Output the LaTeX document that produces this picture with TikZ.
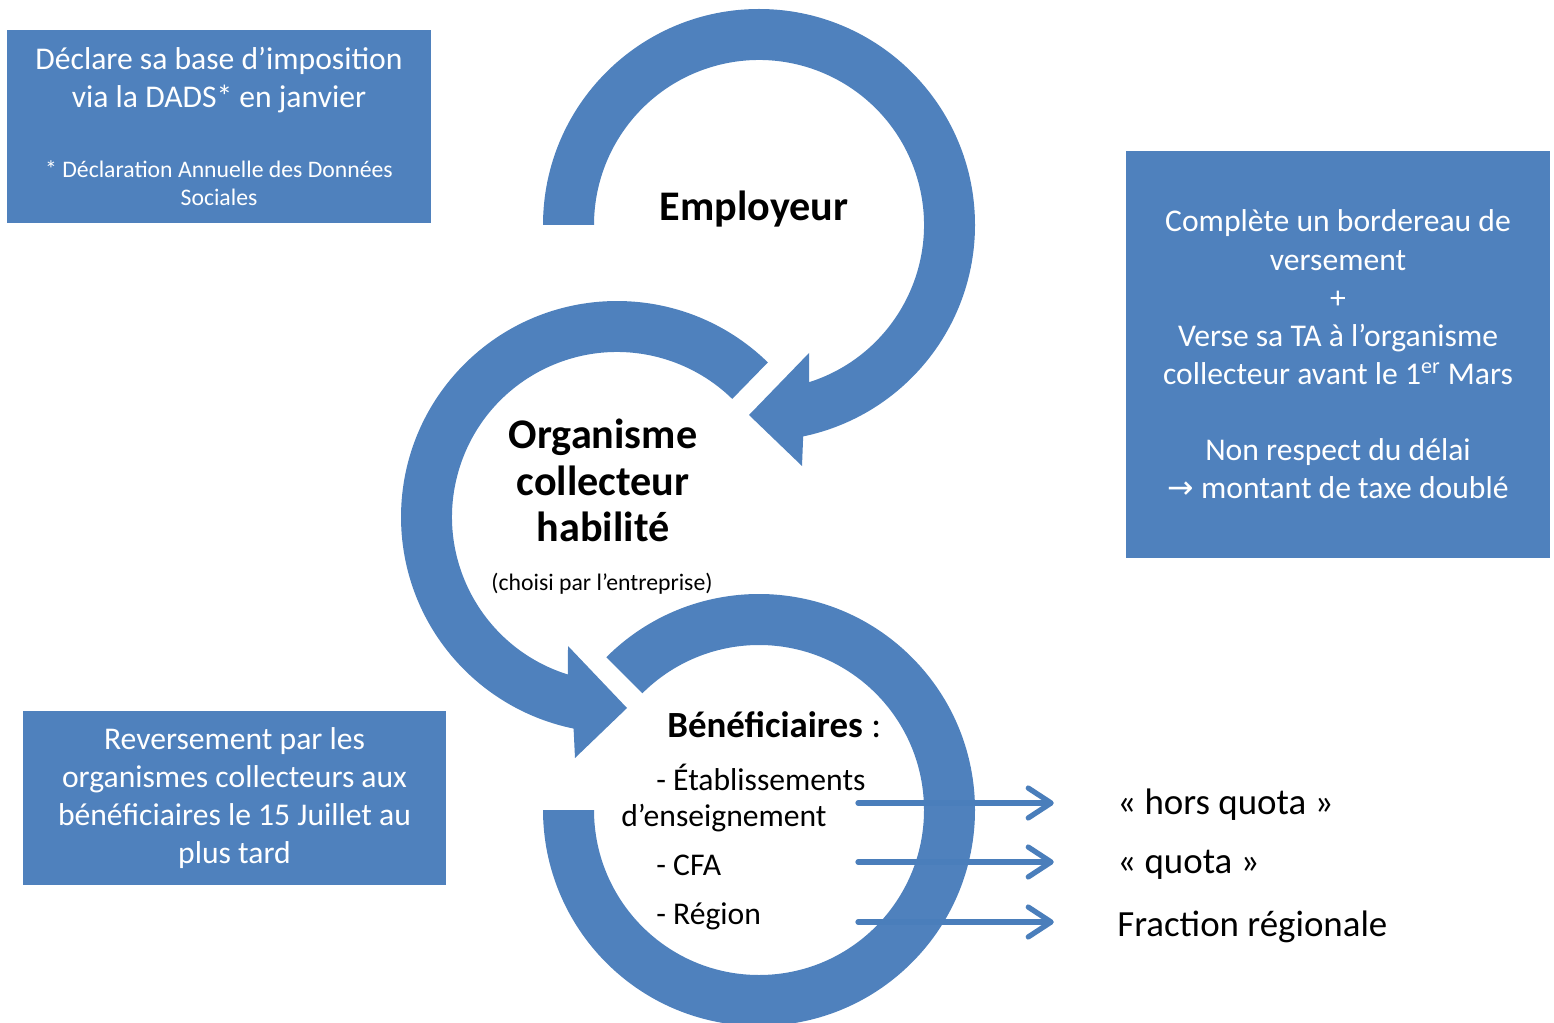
\documentclass[tikz,border=0pt]{standalone}
\usepackage{fontspec}
\setmainfont{Carlito}
\newfontfamily\symfont{DejaVu Sans}
\usetikzlibrary{arrows.meta}

\definecolor{ringblue}{RGB}{79,129,189}
\definecolor{flowblue}{RGB}{74,126,187}

\begin{document}
\begin{tikzpicture}[x=0.02cm,y=0.02cm,
  infobox/.style={fill=ringblue,text=white,align=flush center,inner sep=0pt,
    execute at begin node=\setlength{\parindent}{0pt},
    font=\fontsize{18}{21.7}\selectfont},
  title/.style={font=\fontsize{24}{26.4}\selectfont\bfseries,align=center,inner sep=0pt},
  item/.style={font=\fontsize{18}{21.7}\selectfont,anchor=base west,inner sep=0pt},
  share/.style={font=\fontsize{21}{25}\selectfont,anchor=base west,inner sep=0pt},
  flow/.style={flowblue,line width=3pt,line cap=round,shorten >=36pt,
    -{Straight Barb[length=13pt,width=17pt,round]}}]

\useasboundingbox (0,0) rectangle (1554,-1023);
\clip (0,0) rectangle (1554,-1023);

% Employeur ring, head at the bottom
\begin{scope}[shift={(759,-225)}]
\fill[ringblue] (180:216) arc[start angle=180,end angle=-78.2,radius=216]
  -- (43,-241) -- (-10,-190) -- (50,-128) -- (-72.3:165)
  arc[start angle=-72.3,end angle=180,radius=165] -- cycle;
\end{scope}

% Organisme ring
\begin{scope}[shift={(617,-517)}]
\fill[ringblue] (45.7:216) arc[start angle=45.7,end angle=258.4,radius=216]
  -- (-42,-241) -- (10,-191) -- (-49,-129) -- (252.7:165)
  arc[start angle=252.7,end angle=45.7,radius=165] -- cycle;
\end{scope}

% Beneficiaires ring (no head)
\begin{scope}[shift={(759,-810)}]
\fill[ringblue] (135:216) arc[start angle=135,end angle=-180,radius=216]
  -- (180:165) arc[start angle=-180,end angle=135,radius=165] -- cycle;
\end{scope}

% Boxes
\node[infobox,text width=8.48cm,minimum height=3.86cm] (dads) at (219,-126.5)
  {Déclare sa base d’imposition\par via la DADS* en janvier\par\vspace{23.4pt}
   {\fontsize{13.5}{16.4}\selectfont * Déclaration Annuelle des Données\par Sociales\par}};
\node[infobox,text width=8.48cm,minimum height=8.14cm] (versement) at (1338,-354.5)
  {Complète un bordereau de\\versement\\+\\Verse sa TA à l’organisme\\
   collecteur avant le 1\textsuperscript{er} Mars\\[21.7pt]Non respect du délai\\
   {\symfont →} montant de taxe doublé};
\node[infobox,text width=8.46cm,minimum height=3.48cm] (reversement) at (234.5,-798)
  {Reversement par les\\organismes collecteurs aux\\bénéficiaires le 15 Juillet au\\plus tard};

% Ring labels
\node[title,anchor=base] (employeur) at (754,-221) {Employeur};
\node[title,anchor=north] (organisme) at (603,-419) {Organisme\\collecteur\\habilité};
\node[font=\fontsize{13.5}{16}\selectfont,anchor=base,inner sep=0pt] (choix) at (602,-590)
  {(choisi par l’entreprise)};
\node[font=\fontsize{21}{25}\selectfont,anchor=base west,inner sep=0pt] (benef) at (667,-737)
  {\textbf{Bénéficiaires} :};
\node[item] (etab) at (656,-790) {- Établissements};
\node[item] (ens) at (621,-826) {d’enseignement};
\node[item] (cfa) at (656,-875) {- CFA};
\node[item] (region) at (656,-924) {- Région};

% Shares
\node[share] (horsquota) at (1117,-814) {« hors quota »};
\node[share] (quota) at (1117,-873) {« quota »};
\node[share] (fraction) at (1117,-936) {Fraction régionale};

\coordinate (s1) at (858,-803);
\coordinate (s2) at (858,-862);
\coordinate (s3) at (858,-922);
\draw[flow] (s1) -- (s1 -| horsquota.west);
\draw[flow] (s2) -- (s2 -| quota.west);
\draw[flow] (s3) -- (s3 -| fraction.west);
\end{tikzpicture}
\end{document}
